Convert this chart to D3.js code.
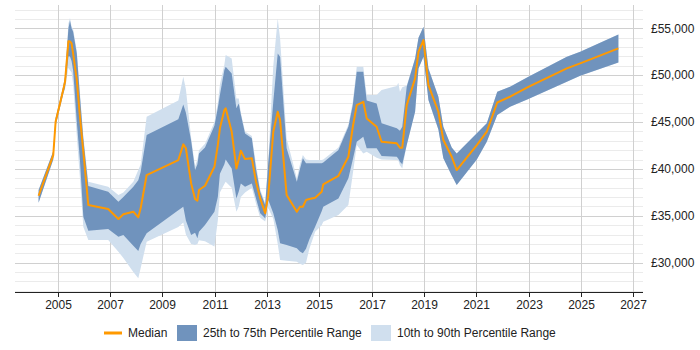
<!DOCTYPE html>
<html>
<head>
<meta charset="utf-8">
<script src="https://cdn.jsdelivr.net/npm/d3@7"></script>
<style>
  html, body { margin: 0; padding: 0; background: #fff; }
  svg { display: block; font-family: "Liberation Sans", Arial, sans-serif; }
</style>
</head>
<body>
<svg id="chart" width="700" height="350"></svg>
<script>
// ---- data (decimal years) ----
const dates = [2004.27,2004.83,2004.92,2005.21,2005.28,2005.41,2005.47,2005.53,2005.59,2005.73,2005.85,2005.98,2006.17,
  2006.93,2007.32,2007.51,2007.89,2008.08,2008.17,2008.40,2009.61,2009.80,2009.90,2010.10,2010.25,2010.34,2010.40,2010.63,
  2010.99,2011.12,2011.20,2011.37,2011.42,2011.65,2011.83,2011.92,2012.00,2012.16,2012.42,2012.58,2012.74,2012.93,2013.05,
  2013.24,2013.41,2013.50,2013.75,2014.14,2014.26,2014.37,2014.49,2014.62,2014.84,2015.09,2015.15,2015.73,2016.11,2016.28,
  2016.43,2016.68,2016.81,2017.19,2017.38,2017.96,2018.02,2018.08,2018.17,2018.34,2018.66,2018.79,2018.98,2019.17,2019.55,
  2019.74,2020.06,2020.25,2021.02,2021.40,2021.80,2022.29,2022.99,2024.46,2024.97,2026.43];
const p10 = [36400,41000,44600,48000,48500,50800,50500,50300,49000,43500,39000,33800,32420,
  32420,31170,30500,29000,28340,29400,32240,33800,34300,33000,32000,31890,32000,32400,32300,
  31740,34500,37500,38400,38630,38000,35440,36000,37000,37500,38000,36300,34800,34400,35800,
  34700,32000,30290,30200,30110,29900,29760,30000,31500,33310,34000,34380,35090,36150,39500,
  42550,41660,41830,41200,41020,40950,40900,40400,40060,42550,46100,50720,51960,47340,44200,
  41130,39300,38280,41000,42900,45740,46630,47450,49290,49930,51360];
const p25 = [36400,41000,44600,48000,48700,52000,52000,51500,50500,45000,40950,34900,33410,
  33590,32770,32950,31800,31250,32000,33130,35600,35970,34500,32950,33200,32600,33300,34020,
  35440,37000,39500,40500,41000,40060,36860,37600,38460,38100,38460,36860,35270,34730,36680,
  35270,33500,32070,31890,31540,31200,31000,31500,32500,33840,35500,35970,36860,39000,41000,
  42900,43430,42200,42200,41370,41300,41100,40770,40500,42550,46100,50720,51960,47340,44200,
  41130,39300,38280,41000,42900,45740,46630,47450,49290,49930,51360];
const median = [37140,41480,45030,48410,49290,53630,53600,53400,52300,49500,45570,41830,36150,
  35720,34660,35160,35440,34840,35800,39350,40950,42620,42200,38460,36790,36610,37750,38210,
  40230,42550,44330,46280,46460,43970,40060,41000,41940,41050,41130,38630,36860,35270,37220,
  43970,46100,45210,37220,35440,35970,35970,36680,36790,36930,37570,38360,39270,41300,44500,
  46810,47160,45390,44500,42900,42730,42500,42260,42260,46810,49660,52490,53740,48940,46100,
  43080,41300,39880,42550,43970,47090,47700,48760,50720,51260,52860];
const p75 = [37750,41900,45400,48800,49800,55000,55800,55000,54620,52320,47750,43180,38180,
  37570,36500,37000,38100,38800,39680,43610,45300,46880,46000,43000,39880,40500,41660,42300,
  44600,46500,47880,50540,50900,50190,46460,46990,45800,43790,43260,40000,37570,36150,40770,
  47160,52320,51960,42200,38630,40000,41130,40600,40600,40600,40600,40700,42010,44500,46810,
  50360,50360,47300,46990,44860,44330,44200,44080,44500,48760,51790,54000,55160,50720,47700,
  44500,42300,41660,43800,44860,48230,48760,49830,51960,52490,54350];
const p90 = [37750,41900,45400,48800,50000,55500,56100,55200,54900,52600,48100,43500,38630,
  38100,37220,37500,38630,39880,40480,45560,47300,49830,48500,43300,40300,41000,42000,42700,
  45000,47000,49000,51100,52140,51790,47520,47500,46000,44000,43500,40500,37800,36400,41000,
  51000,56050,53920,43260,39000,40500,41480,41000,40950,40950,40950,41000,42300,44700,47200,
  50900,50900,47880,47880,48410,48840,49190,48230,48700,48900,51790,54000,55160,50720,47700,
  44500,42300,41660,43800,44860,48230,48760,49830,51960,52490,54350];
const xTickYears = [2005,2007,2009,2011,2013,2015,2017,2019,2021,2023,2025,2027];
const yTickValues = [30000,35000,40000,45000,50000,55000];
const legendLabels = ["Median","25th to 75th Percentile Range","10th to 90th Percentile Range"];

// ---- layout ----
const plot = {left: 15, right: 643, top: 5, bottom: 292};
const colors = {median: "#ff9900", iqr: "#7093bd", outer: "#d0dfee"};

const svg = d3.select("#chart");
const x = d3.scaleLinear().domain([2005, 2027]).range([57.7, 633.3]);
const y = d3.scaleLinear().domain([30000, 55000]).range([262.7, 28.3]);

const rows = dates.map((d, i) => ({d, p10: p10[i], p25: p25[i], m: median[i], p75: p75[i], p90: p90[i]}));

// minor gridlines
const vTop = y.invert(plot.top), vBot = y.invert(plot.bottom);
const minor = d3.range(Math.ceil(vBot / 1000) * 1000, vTop, 1000).filter(v => v % 5000 !== 0);
svg.append("g").selectAll("line").data(minor).join("line")
  .attr("x1", plot.left).attr("x2", plot.right)
  .attr("y1", d => Math.round(y(d)) + 0.5).attr("y2", d => Math.round(y(d)) + 0.5)
  .attr("stroke", "#ebebeb").attr("stroke-width", 1);
// major gridlines
svg.append("g").selectAll("line").data(yTickValues).join("line")
  .attr("x1", plot.left).attr("x2", plot.right)
  .attr("y1", d => Math.round(y(d)) + 0.5).attr("y2", d => Math.round(y(d)) + 0.5)
  .attr("stroke", "#d0d0d0").attr("stroke-width", 1);
svg.append("g").selectAll("line").data(xTickYears).join("line")
  .attr("x1", d => Math.round(x(d)) + 0.5).attr("x2", d => Math.round(x(d)) + 0.5)
  .attr("y1", plot.top).attr("y2", plot.bottom)
  .attr("stroke", "#d0d0d0").attr("stroke-width", 1);

// bands
const outerArea = d3.area().x(r => x(r.d)).y0(r => y(r.p10)).y1(r => y(r.p90));
const iqrArea = d3.area().x(r => x(r.d)).y0(r => y(r.p25)).y1(r => y(r.p75));
svg.append("path").datum(rows).attr("d", outerArea).attr("fill", colors.outer);
svg.append("path").datum(rows).attr("d", iqrArea).attr("fill", colors.iqr);
svg.append("path").datum(rows)
  .attr("d", d3.line().x(r => x(r.d)).y(r => y(r.m)))
  .attr("fill", "none").attr("stroke", colors.median).attr("stroke-width", 2)
  .attr("stroke-linejoin", "round");

// x axis
const xAxis = svg.append("g").attr("transform", `translate(0,${plot.bottom})`);
xAxis.append("line").attr("x1", plot.left).attr("x2", plot.right)
  .attr("y1", 0.5).attr("y2", 0.5).attr("stroke", "#222");
const xt = xAxis.selectAll("g.t").data(xTickYears).join("g").attr("class", "t")
  .attr("transform", d => `translate(${Math.round(x(d)) + 0.5},0)`);
xt.append("line").attr("y1", 0).attr("y2", 5).attr("stroke", "#222");
xt.append("text").attr("y", 17).attr("text-anchor", "middle")
  .attr("font-size", 12).attr("fill", "#222").text(d => d3.format("d")(d));

// y labels (right)
const fmt = d3.format(",");
svg.append("g").selectAll("text").data(yTickValues).join("text")
  .attr("x", plot.right + 8).attr("y", d => y(d)).attr("dy", "0.35em")
  .attr("font-size", 12).attr("fill", "#222").text(d => "£" + fmt(d));

// legend
const lg = svg.append("g").attr("transform", "translate(0,333)");
lg.append("line").attr("x1", 104).attr("x2", 122).attr("y1", 0).attr("y2", 0)
  .attr("stroke", colors.median).attr("stroke-width", 3);
lg.append("text").attr("x", 128).attr("y", 0).attr("dy", "0.35em").attr("font-size", 12)
  .attr("fill", "#222").text(legendLabels[0]);
lg.append("rect").attr("x", 177).attr("y", -8).attr("width", 20).attr("height", 16).attr("fill", colors.iqr);
lg.append("text").attr("x", 203).attr("y", 0).attr("dy", "0.35em").attr("font-size", 12)
  .attr("fill", "#222").text(legendLabels[1]);
lg.append("rect").attr("x", 371).attr("y", -8).attr("width", 20).attr("height", 16).attr("fill", colors.outer);
lg.append("text").attr("x", 397).attr("y", 0).attr("dy", "0.35em").attr("font-size", 12)
  .attr("fill", "#222").text(legendLabels[2]);
</script>
</body>
</html>
